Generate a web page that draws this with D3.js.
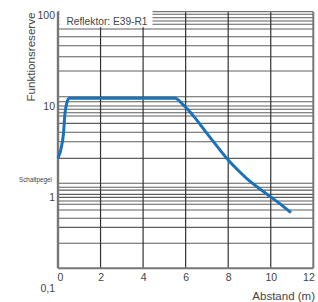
<!DOCTYPE html>
<html>
<head>
<meta charset="utf-8">
<script src="https://cdn.jsdelivr.net/npm/d3@7"></script>
<style>
  body { margin: 0; background: #fff; }
  svg { display: block; font-family: "Liberation Sans", Arial, sans-serif; }
</style>
</head>
<body>
<div id="chart"></div>
<script>
// distance (m) and Funktionsreserve
const distance = [0, 0.2, 0.25, 0.33, 0.41, 0.52, 5.5, 5.9, 6.4, 7.0, 7.5, 8.0, 8.5, 9.0, 9.5, 10.0, 10.5, 10.95];
const reserve  = [2.66, 3.95, 4.8, 8.38, 10.7, 12.15, 12.15, 10.2, 7.6, 5.0, 3.55, 2.55, 1.93, 1.5, 1.22, 1.0, 0.82, 0.672];

const xTicks = [0, 2, 4, 6, 8, 10, 12];
const yTicks = [100, 10, 1, 0.1];
const yTickLabels = ["100", "10", "1", "0,1"];

// horizontal rules as drawn in the original sheet
const hGrid = [102, 93.4, 85.9, 79, 70.2, 57.7, 46, 34.8, 24.2,
               12.66, 11.15, 10, 9.2, 8.44, 7.76, 6.45, 5.14, 4.05, 2.66,
               1.415, 1.28, 1.19, 1.07, 0.99, 0.904, 0.831, 0.72, 0.583, 0.464, 0.31];

const width = 318, height = 302;
const yFrameMin = 0.165, yFrameMax = 108.7;

const x = d3.scaleLinear().domain([0, 12]).range([58, 313.3]);
const y = d3.scaleLog().domain([0.1, 100]).range([288, 15]);

const svg = d3.select("#chart").append("svg")
    .attr("width", width)
    .attr("height", height);

const yTop = y(yFrameMax), yBottom = y(yFrameMin);

// horizontal grid
svg.append("g").selectAll("line")
    .data(hGrid)
    .join("line")
    .attr("x1", x(0)).attr("x2", x(12))
    .attr("y1", d => y(d)).attr("y2", d => y(d))
    .attr("stroke", "#5e5e5e")
    .attr("stroke-width", 1.1);

// vertical grid
svg.append("g").selectAll("line")
    .data(xTicks.slice(1, -1))
    .join("line")
    .attr("x1", d => x(d)).attr("x2", d => x(d))
    .attr("y1", yTop).attr("y2", yBottom)
    .attr("stroke", "#333")
    .attr("stroke-width", 1.2);

// frame
svg.append("line").attr("x1", x(12)).attr("x2", x(12)).attr("y1", yTop).attr("y2", yBottom)
    .attr("stroke", "#777").attr("stroke-width", 2);
svg.append("line").attr("x1", x(0)).attr("x2", x(12)).attr("y1", yTop).attr("y2", yTop)
    .attr("stroke", "#777").attr("stroke-width", 1.2);
svg.append("line").attr("x1", x(0)).attr("x2", x(12)).attr("y1", yBottom).attr("y2", yBottom)
    .attr("stroke", "#777").attr("stroke-width", 2);
svg.append("line").attr("x1", x(0)).attr("x2", x(0)).attr("y1", yTop).attr("y2", yBottom)
    .attr("stroke", "#777").attr("stroke-width", 2.4);

// legend box
svg.append("rect")
    .attr("x", x(0) + 1.5).attr("y", yTop - 1)
    .attr("width", 93).attr("height", 16.5)
    .attr("fill", "#fff");
svg.append("text")
    .attr("x", 66.5).attr("y", 25)
    .attr("font-size", 10.5)
    .attr("textLength", 81)
    .attr("lengthAdjust", "spacingAndGlyphs")
    .attr("fill", "#444")
    .text("Reflektor: E39-R1");

// curve
const pts = distance.map((d, i) => [d, reserve[i]]);
svg.append("path")
    .datum(pts)
    .attr("fill", "none")
    .attr("stroke", "#1a73ba")
    .attr("stroke-width", 3)
    .attr("stroke-linejoin", "round")
    .attr("stroke-linecap", "butt")
    .attr("d", d3.line().x(d => x(d[0])).y(d => y(d[1])).curve(d3.curveMonotoneX));

// x axis labels
const xAxis = svg.append("g")
    .attr("transform", `translate(0,${yBottom})`)
    .call(d3.axisBottom(x).tickValues(xTicks).tickSize(0).tickPadding(5));
xAxis.select(".domain").remove();
xAxis.selectAll("text")
    .attr("font-size", 10.5)
    .attr("font-family", "Liberation Sans, Arial, sans-serif")
    .attr("fill", "#444")
    .attr("text-anchor", d => d === 12 ? "end" : "middle")
    .attr("dx", d => d === 12 ? 1 : (d === 0 ? 2 : 0));

// y axis labels
const yAxis = svg.append("g")
    .attr("transform", `translate(${x(0)},0)`)
    .call(d3.axisLeft(y).tickValues(yTicks).tickSize(0).tickPadding(3)
        .tickFormat((d, i) => yTickLabels[i]));
yAxis.select(".domain").remove();
yAxis.selectAll("text")
    .attr("font-size", 10.5)
    .attr("font-family", "Liberation Sans, Arial, sans-serif")
    .attr("fill", "#444");

svg.append("text")
    .attr("x", 52).attr("y", 182)
    .attr("text-anchor", "end")
    .attr("font-size", 8)
    .attr("textLength", 33)
    .attr("lengthAdjust", "spacingAndGlyphs")
    .attr("fill", "#444")
    .text("Schaltpegel");

svg.append("text")
    .attr("transform", "translate(35,57) rotate(-90)")
    .attr("text-anchor", "middle")
    .attr("font-size", 11.5)
    .attr("textLength", 89)
    .attr("lengthAdjust", "spacingAndGlyphs")
    .attr("fill", "#444")
    .text("Funktionsreserve");

svg.append("text")
    .attr("x", 315).attr("y", 300)
    .attr("text-anchor", "end")
    .attr("font-size", 11.5)
    .attr("fill", "#444")
    .text("Abstand (m)");
</script>
</body>
</html>
